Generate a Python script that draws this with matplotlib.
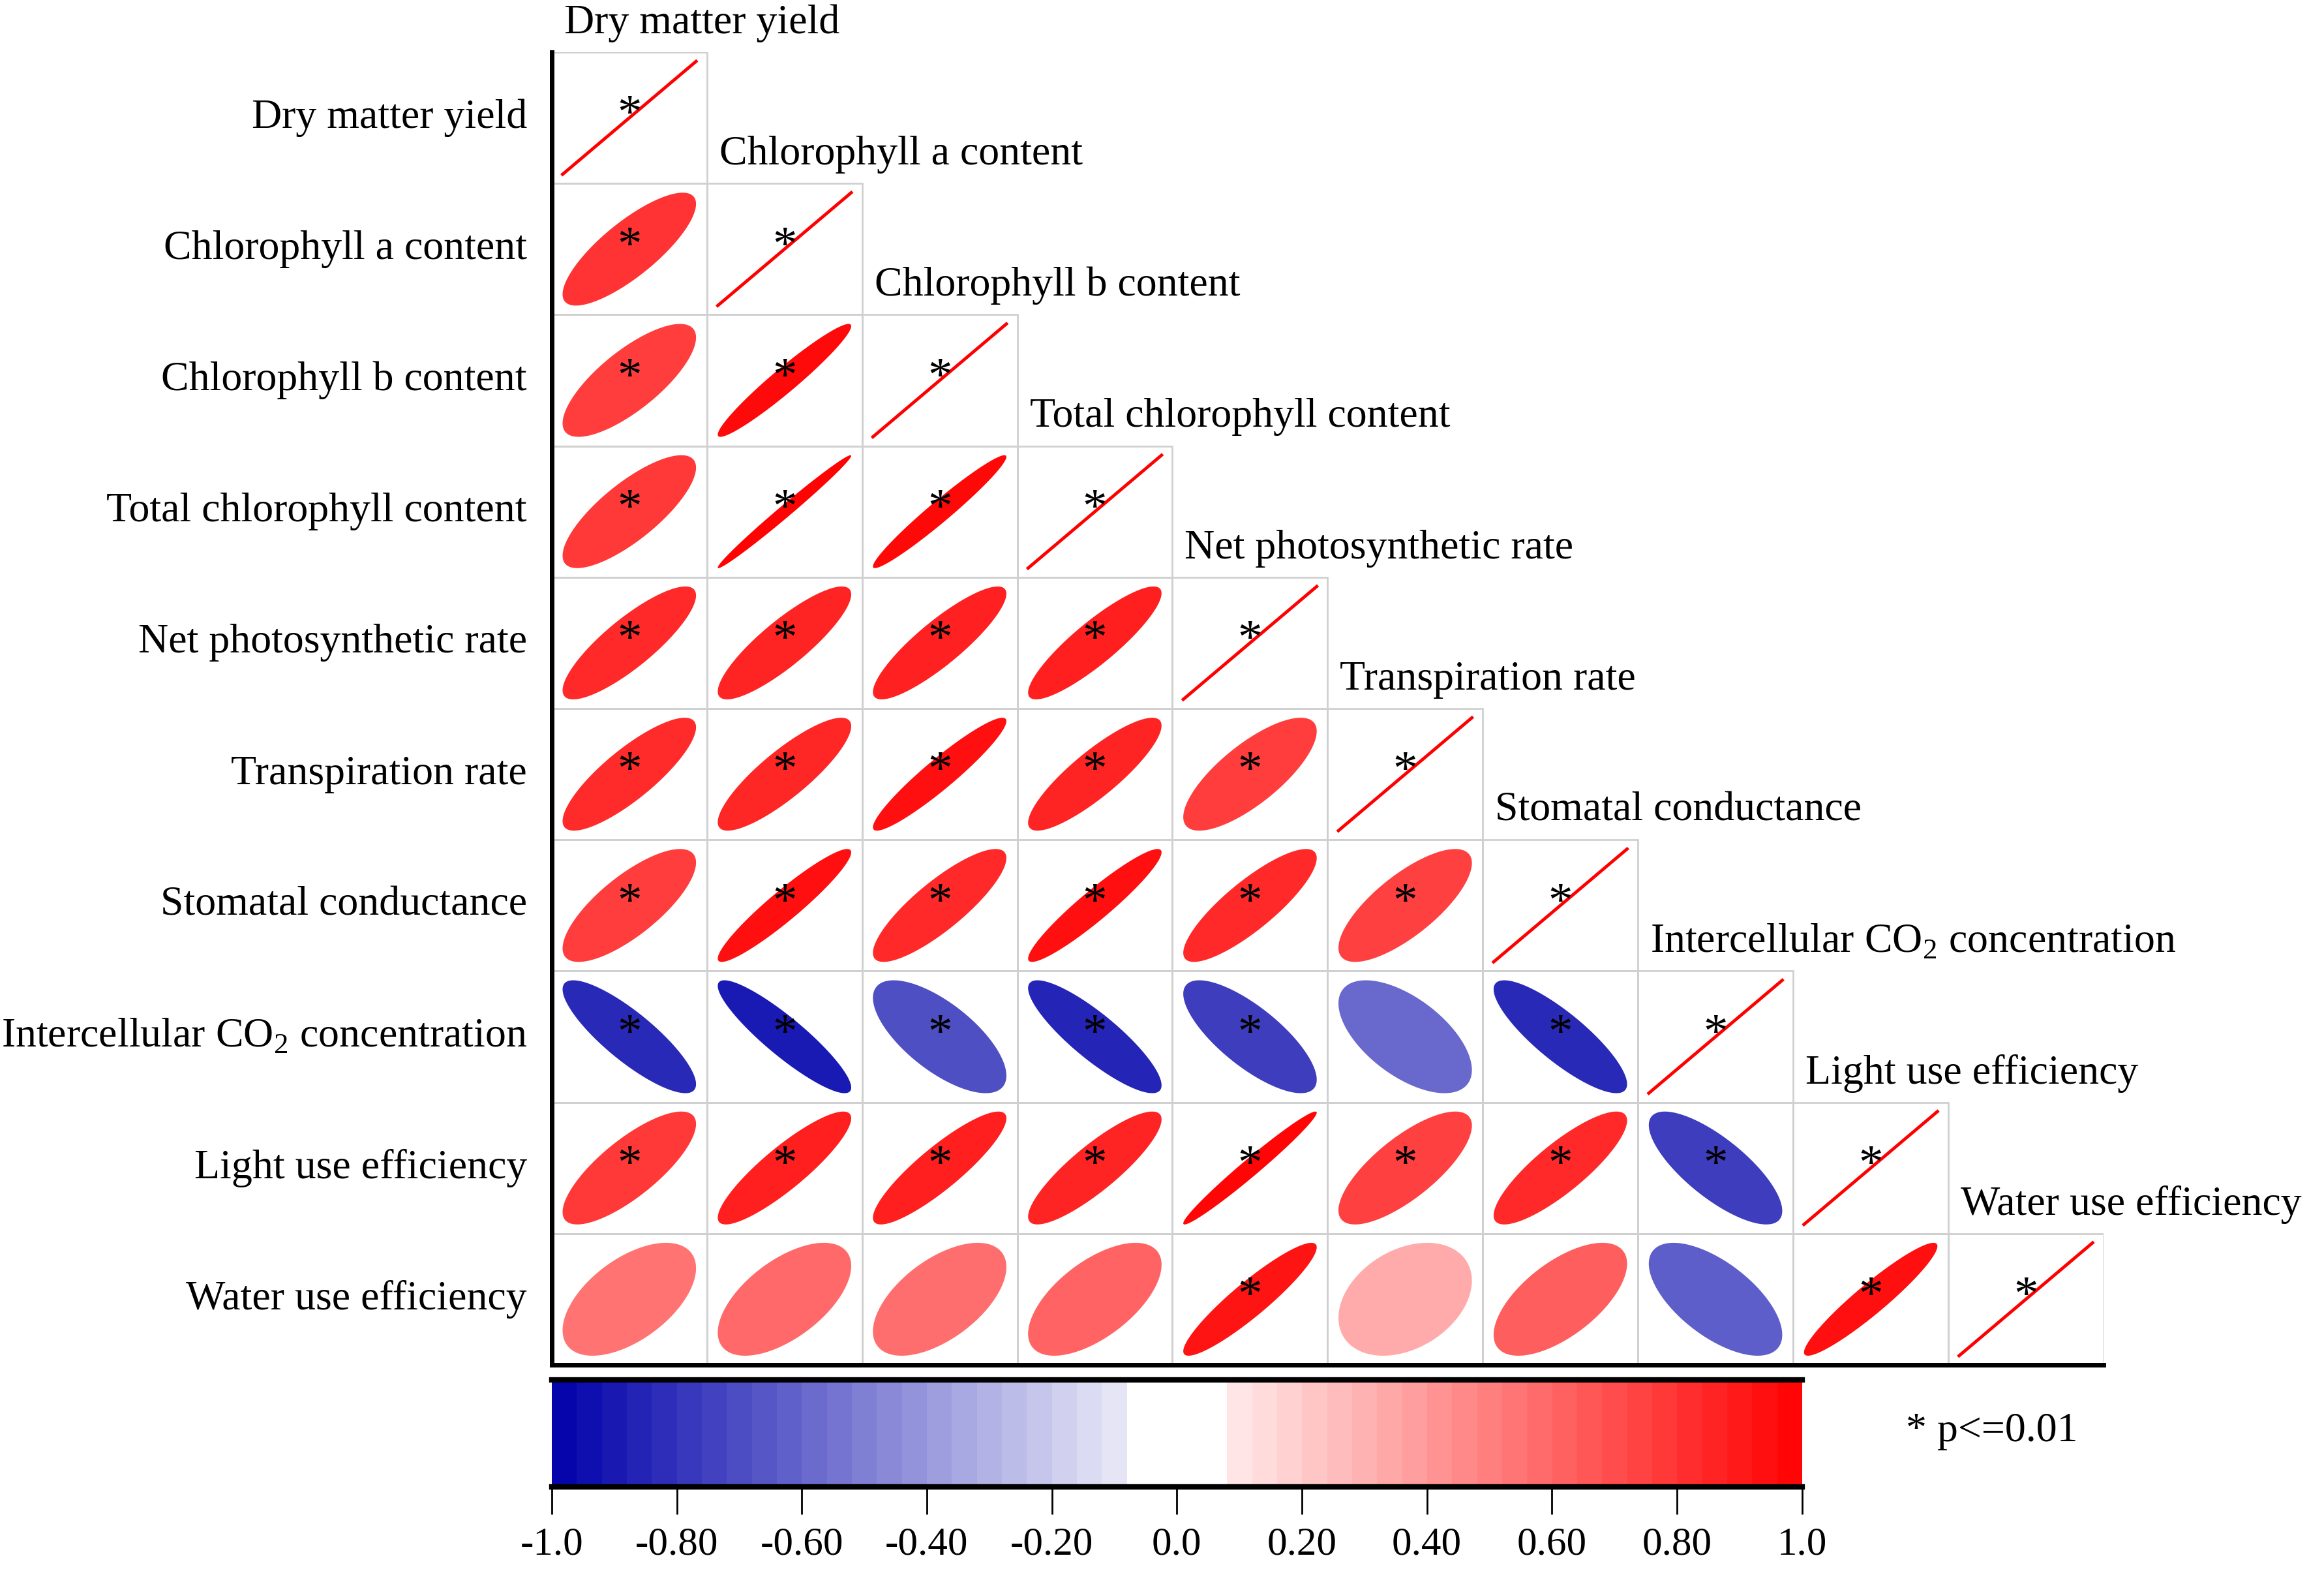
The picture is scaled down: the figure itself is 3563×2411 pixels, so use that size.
import numpy as np
import matplotlib.pyplot as plt
from matplotlib.patches import Rectangle, Polygon
from matplotlib.colors import ListedColormap

plt.rcParams['font.family'] = ['Liberation Serif', 'DejaVu Serif']
plt.rcParams['mathtext.fontset'] = 'custom'
plt.rcParams['mathtext.rm'] = 'Liberation Serif'

labels = ['Dry matter yield', 'Chlorophyll a content', 'Chlorophyll b content',
          'Total chlorophyll content', 'Net photosynthetic rate', 'Transpiration rate',
          'Stomatal conductance', r'Intercellular CO$_\mathrm{2}$ concentration',
          'Light use efficiency', 'Water use efficiency']

# lower triangle, row by row, diagonal left out (it is 1)
corr_rows = [
    [],
    [0.80],
    [0.76, 0.96],
    [0.78, 0.99, 0.97],
    [0.84, 0.86, 0.87, 0.88],
    [0.83, 0.85, 0.94, 0.86, 0.76],
    [0.76, 0.94, 0.84, 0.94, 0.84, 0.75],
    [-0.84, -0.90, -0.69, -0.86, -0.76, -0.59, -0.84],
    [0.78, 0.88, 0.88, 0.86, 0.98, 0.75, 0.84, -0.76],
    [0.55, 0.59, 0.57, 0.61, 0.92, 0.33, 0.63, -0.63, 0.94],
]
# 1 = p<=0.01
sig_rows = [
    [],
    [1],
    [1, 1],
    [1, 1, 1],
    [1, 1, 1, 1],
    [1, 1, 1, 1, 1],
    [1, 1, 1, 1, 1, 1],
    [1, 1, 1, 1, 1, 0, 1],
    [1, 1, 1, 1, 1, 1, 1, 1],
    [0, 0, 0, 0, 1, 0, 0, 0, 1],
]
cb_ticks = [-1.0, -0.8, -0.6, -0.4, -0.2, 0.0, 0.2, 0.4, 0.6, 0.8, 1.0]
cb_ticklabels = ['-1.0', '-0.80', '-0.60', '-0.40', '-0.20', '0.0',
                 '0.20', '0.40', '0.60', '0.80', '1.0']


def corr_color(r):
    if r >= 0:
        return (1.0, 1.0 - r, 1.0 - r)
    a = -r
    return (1.0 - a, 1.0 - a, 1.0 - a * 0.333)


n = len(labels)
fs = 46
fig = plt.figure(figsize=(35.63, 24.11), dpi=100, facecolor='w')
ax = fig.add_axes([0.2374, 0.1323, 0.6677, 0.8345])
ax.set_xlim(0, n)
ax.set_ylim(n, 0)
ax.set_xticks([])
ax.set_yticks([])
for s in ['top', 'right']:
    ax.spines[s].set_visible(False)
ax.spines['left'].set_linewidth(5)
ax.spines['bottom'].set_linewidth(5)
ax.spines['left'].set_zorder(10)
ax.spines['bottom'].set_zorder(10)

t = np.linspace(0, 2 * np.pi, 240)
half = 0.43
for i in range(n):
    for j in range(i + 1):
        ax.add_patch(Rectangle((j, i), 1, 1, fill=False, ec='#d0d0d0', lw=2, zorder=1))
        cx, cy = j + 0.5, i + 0.5
        if i == j:
            ax.plot([cx - half, cx + half], [cy + half, cy - half], color='red', lw=3.5, zorder=2)
            star = True
        else:
            r = corr_rows[i][j]
            d = np.arccos(r)
            px = np.cos(t + d / 2)
            py = np.cos(t - d / 2)
            pts = np.column_stack([cx + half * px, cy - half * py])
            ax.add_patch(Polygon(pts, closed=True, fc=corr_color(r), ec='none', zorder=2))
            star = sig_rows[i][j] == 1
        if star:
            ax.text(cx, cy - 0.01, '*', ha='center', va='center', fontsize=54, zorder=3)
    # row label on the left, column label over the diagonal cell
    ax.text(-0.16, i + 0.5, labels[i], ha='right', va='center', fontsize=fs, clip_on=False)
    ax.text(i + 0.08, i - 0.22, labels[i], ha='left', va='center', fontsize=fs, clip_on=False)

# colour bar
nb = 50
centers = -1 + (np.arange(nb) + 0.5) * 2 / nb
cols = [(1, 1, 1) if -0.09 < c < 0.1 else corr_color(c) for c in centers]
cmap = ListedColormap(cols)
cax = fig.add_axes([0.2374, 0.0548, 0.538, 0.068])
cax.imshow(np.linspace(-1, 1, 500)[None, :], cmap=cmap, vmin=-1, vmax=1,
           aspect='auto', extent=[-1, 1, 0, 1])
cax.set_xlim(-1, 1)
cax.set_yticks([])
cax.set_xticks(cb_ticks)
cax.set_xticklabels(cb_ticklabels, fontsize=44)
cax.tick_params(axis='x', length=30, width=2, pad=14)
cax.spines['left'].set_visible(False)
cax.spines['right'].set_visible(False)
cax.spines['top'].set_linewidth(6)
cax.spines['bottom'].set_linewidth(6)

fig.text(0.820, 0.090, '* p<=0.01', ha='left', va='center', fontsize=fs)

fig.savefig('out.png', dpi=100, facecolor='w')
